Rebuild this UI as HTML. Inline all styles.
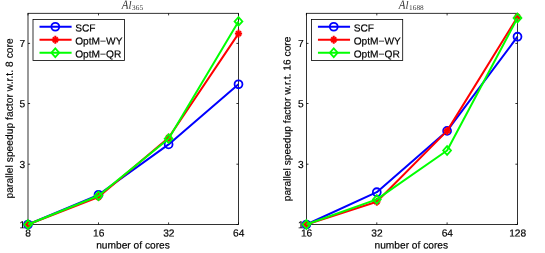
<!DOCTYPE html>
<html><head><meta charset="utf-8"><style>
html,body{margin:0;padding:0;background:#fff;}
svg{display:block}
svg{will-change:transform;transform:translateZ(0)}
.t{font-family:"Liberation Sans",sans-serif;font-size:10.2px;fill:#000;stroke:#000;stroke-width:0.18px}
.ti{font-family:"Liberation Serif",serif;font-size:11px;fill:#3a3a3a}
</style></head><body>
<svg width="545" height="253" viewBox="0 0 545 253">
<rect width="545" height="253" fill="#fff"/>
<rect x="28.0" y="13.3" width="210.50" height="211.20" fill="#fff" stroke="#000" stroke-width="0.8"/>
<line x1="28.0" y1="224.50" x2="30.1" y2="224.50" stroke="#000" stroke-width="0.8"/>
<line x1="238.5" y1="224.50" x2="236.4" y2="224.50" stroke="#000" stroke-width="0.8"/>
<text transform="translate(25.20,228.20) rotate(0.03)" text-anchor="end" class="t">1</text>
<line x1="28.0" y1="164.20" x2="30.1" y2="164.20" stroke="#000" stroke-width="0.8"/>
<line x1="238.5" y1="164.20" x2="236.4" y2="164.20" stroke="#000" stroke-width="0.8"/>
<text transform="translate(25.20,167.90) rotate(0.03)" text-anchor="end" class="t">3</text>
<line x1="28.0" y1="103.50" x2="30.1" y2="103.50" stroke="#000" stroke-width="0.8"/>
<line x1="238.5" y1="103.50" x2="236.4" y2="103.50" stroke="#000" stroke-width="0.8"/>
<text transform="translate(25.20,107.20) rotate(0.03)" text-anchor="end" class="t">5</text>
<line x1="28.0" y1="43.40" x2="30.1" y2="43.40" stroke="#000" stroke-width="0.8"/>
<line x1="238.5" y1="43.40" x2="236.4" y2="43.40" stroke="#000" stroke-width="0.8"/>
<text transform="translate(25.20,47.10) rotate(0.03)" text-anchor="end" class="t">7</text>
<line x1="28.00" y1="224.5" x2="28.00" y2="222.4" stroke="#000" stroke-width="0.8"/>
<line x1="28.00" y1="13.3" x2="28.00" y2="15.4" stroke="#000" stroke-width="0.8"/>
<text transform="translate(28.20,236.60) rotate(0.03)" text-anchor="middle" class="t">8</text>
<line x1="98.50" y1="224.5" x2="98.50" y2="222.4" stroke="#000" stroke-width="0.8"/>
<line x1="98.50" y1="13.3" x2="98.50" y2="15.4" stroke="#000" stroke-width="0.8"/>
<text transform="translate(98.70,236.60) rotate(0.03)" text-anchor="middle" class="t">16</text>
<line x1="168.60" y1="224.5" x2="168.60" y2="222.4" stroke="#000" stroke-width="0.8"/>
<line x1="168.60" y1="13.3" x2="168.60" y2="15.4" stroke="#000" stroke-width="0.8"/>
<text transform="translate(168.80,236.60) rotate(0.03)" text-anchor="middle" class="t">32</text>
<line x1="238.50" y1="224.5" x2="238.50" y2="222.4" stroke="#000" stroke-width="0.8"/>
<line x1="238.50" y1="13.3" x2="238.50" y2="15.4" stroke="#000" stroke-width="0.8"/>
<text transform="translate(238.70,236.60) rotate(0.03)" text-anchor="middle" class="t">64</text>
<text transform="translate(133.0,248.40) rotate(0.03)" text-anchor="middle" class="t">number of cores</text>
<text transform="translate(12.8,198.45) rotate(-90.03)" textLength="160.1" lengthAdjust="spacing" class="t">parallel speedup factor w.r.t. 8 core</text>
<text transform="translate(121.7,8.85) scale(1,1.15) rotate(0.03)" class="ti" font-style="italic">A</text>
<text transform="translate(128.60,8.85) scale(1,1.03) rotate(0.03)" class="ti" font-style="italic">l</text>
<text transform="translate(132.10,9.9) rotate(0.03)" class="ti" style="font-size:7.3px">365</text>
<polyline points="28.00,224.50 98.50,194.80 168.60,144.40 238.50,84.30" fill="none" stroke="#0000ff" stroke-width="2.0" stroke-linejoin="round"/>
<circle cx="28.00" cy="224.50" r="3.95" fill="none" stroke="#0000ff" stroke-width="1.8"/>
<circle cx="98.50" cy="194.80" r="3.95" fill="none" stroke="#0000ff" stroke-width="1.8"/>
<circle cx="168.60" cy="144.40" r="3.95" fill="none" stroke="#0000ff" stroke-width="1.8"/>
<circle cx="238.50" cy="84.30" r="3.95" fill="none" stroke="#0000ff" stroke-width="1.8"/>
<polyline points="28.00,224.50 98.50,197.00 168.60,137.70 238.50,33.60" fill="none" stroke="#ff0000" stroke-width="2.0" stroke-linejoin="round"/>
<line x1="24.40" y1="224.50" x2="31.60" y2="224.50" stroke="#ff0000" stroke-width="2.0"/><line x1="28.00" y1="220.50" x2="28.00" y2="228.50" stroke="#ff0000" stroke-width="2.0"/><line x1="25.53" y1="222.03" x2="30.47" y2="226.97" stroke="#ff0000" stroke-width="2.0"/><line x1="30.47" y1="222.03" x2="25.53" y2="226.97" stroke="#ff0000" stroke-width="2.0"/>
<line x1="94.90" y1="197.00" x2="102.10" y2="197.00" stroke="#ff0000" stroke-width="2.0"/><line x1="98.50" y1="193.00" x2="98.50" y2="201.00" stroke="#ff0000" stroke-width="2.0"/><line x1="96.03" y1="194.53" x2="100.97" y2="199.47" stroke="#ff0000" stroke-width="2.0"/><line x1="100.97" y1="194.53" x2="96.03" y2="199.47" stroke="#ff0000" stroke-width="2.0"/>
<line x1="165.00" y1="137.70" x2="172.20" y2="137.70" stroke="#ff0000" stroke-width="2.0"/><line x1="168.60" y1="133.70" x2="168.60" y2="141.70" stroke="#ff0000" stroke-width="2.0"/><line x1="166.13" y1="135.23" x2="171.07" y2="140.17" stroke="#ff0000" stroke-width="2.0"/><line x1="171.07" y1="135.23" x2="166.13" y2="140.17" stroke="#ff0000" stroke-width="2.0"/>
<line x1="234.90" y1="33.60" x2="242.10" y2="33.60" stroke="#ff0000" stroke-width="2.0"/><line x1="238.50" y1="29.60" x2="238.50" y2="37.60" stroke="#ff0000" stroke-width="2.0"/><line x1="236.03" y1="31.13" x2="240.97" y2="36.07" stroke="#ff0000" stroke-width="2.0"/><line x1="240.97" y1="31.13" x2="236.03" y2="36.07" stroke="#ff0000" stroke-width="2.0"/>
<polyline points="28.00,224.50 98.50,195.80 168.60,138.70 238.50,21.40" fill="none" stroke="#00ff00" stroke-width="2.0" stroke-linejoin="round"/>
<polygon points="28.00,220.20 31.90,224.50 28.00,228.80 24.10,224.50" fill="none" stroke="#00ff00" stroke-width="1.8"/>
<polygon points="98.50,191.50 102.40,195.80 98.50,200.10 94.60,195.80" fill="none" stroke="#00ff00" stroke-width="1.8"/>
<polygon points="168.60,134.40 172.50,138.70 168.60,143.00 164.70,138.70" fill="none" stroke="#00ff00" stroke-width="1.8"/>
<polygon points="238.50,17.10 242.40,21.40 238.50,25.70 234.60,21.40" fill="none" stroke="#00ff00" stroke-width="1.8"/>
<rect x="33.0" y="19.5" width="91.50" height="41.00" fill="#fff" stroke="#000" stroke-width="0.8"/>
<line x1="39.50" y1="26.75" x2="71.60" y2="26.75" stroke="#0000ff" stroke-width="1.9"/>
<circle cx="55.30" cy="26.75" r="3.95" fill="none" stroke="#0000ff" stroke-width="1.8"/>
<text transform="translate(75.20,31.45) rotate(0.03)" class="t">SCF</text>
<line x1="39.50" y1="39.75" x2="71.60" y2="39.75" stroke="#ff0000" stroke-width="1.9"/>
<line x1="51.70" y1="39.75" x2="58.90" y2="39.75" stroke="#ff0000" stroke-width="2.0"/><line x1="55.30" y1="35.75" x2="55.30" y2="43.75" stroke="#ff0000" stroke-width="2.0"/><line x1="52.83" y1="37.28" x2="57.77" y2="42.22" stroke="#ff0000" stroke-width="2.0"/><line x1="57.77" y1="37.28" x2="52.83" y2="42.22" stroke="#ff0000" stroke-width="2.0"/>
<text transform="translate(75.20,44.45) rotate(0.03)" class="t">OptM−WY</text>
<line x1="39.50" y1="52.75" x2="71.60" y2="52.75" stroke="#00ff00" stroke-width="1.9"/>
<polygon points="55.30,48.45 59.20,52.75 55.30,57.05 51.40,52.75" fill="none" stroke="#00ff00" stroke-width="1.8"/>
<text transform="translate(75.20,57.45) rotate(0.03)" class="t">OptM−QR</text>
<rect x="306.4" y="13.3" width="211.10" height="211.20" fill="#fff" stroke="#000" stroke-width="0.8"/>
<line x1="306.4" y1="224.50" x2="308.5" y2="224.50" stroke="#000" stroke-width="0.8"/>
<line x1="517.5" y1="224.50" x2="515.4" y2="224.50" stroke="#000" stroke-width="0.8"/>
<text transform="translate(303.60,228.20) rotate(0.03)" text-anchor="end" class="t">1</text>
<line x1="306.4" y1="164.20" x2="308.5" y2="164.20" stroke="#000" stroke-width="0.8"/>
<line x1="517.5" y1="164.20" x2="515.4" y2="164.20" stroke="#000" stroke-width="0.8"/>
<text transform="translate(303.60,167.90) rotate(0.03)" text-anchor="end" class="t">3</text>
<line x1="306.4" y1="103.50" x2="308.5" y2="103.50" stroke="#000" stroke-width="0.8"/>
<line x1="517.5" y1="103.50" x2="515.4" y2="103.50" stroke="#000" stroke-width="0.8"/>
<text transform="translate(303.60,107.20) rotate(0.03)" text-anchor="end" class="t">5</text>
<line x1="306.4" y1="43.40" x2="308.5" y2="43.40" stroke="#000" stroke-width="0.8"/>
<line x1="517.5" y1="43.40" x2="515.4" y2="43.40" stroke="#000" stroke-width="0.8"/>
<text transform="translate(303.60,47.10) rotate(0.03)" text-anchor="end" class="t">7</text>
<line x1="306.40" y1="224.5" x2="306.40" y2="222.4" stroke="#000" stroke-width="0.8"/>
<line x1="306.40" y1="13.3" x2="306.40" y2="15.4" stroke="#000" stroke-width="0.8"/>
<text transform="translate(306.60,236.60) rotate(0.03)" text-anchor="middle" class="t">16</text>
<line x1="376.80" y1="224.5" x2="376.80" y2="222.4" stroke="#000" stroke-width="0.8"/>
<line x1="376.80" y1="13.3" x2="376.80" y2="15.4" stroke="#000" stroke-width="0.8"/>
<text transform="translate(377.00,236.60) rotate(0.03)" text-anchor="middle" class="t">32</text>
<line x1="447.10" y1="224.5" x2="447.10" y2="222.4" stroke="#000" stroke-width="0.8"/>
<line x1="447.10" y1="13.3" x2="447.10" y2="15.4" stroke="#000" stroke-width="0.8"/>
<text transform="translate(447.30,236.60) rotate(0.03)" text-anchor="middle" class="t">64</text>
<line x1="517.50" y1="224.5" x2="517.50" y2="222.4" stroke="#000" stroke-width="0.8"/>
<line x1="517.50" y1="13.3" x2="517.50" y2="15.4" stroke="#000" stroke-width="0.8"/>
<text transform="translate(517.70,236.60) rotate(0.03)" text-anchor="middle" class="t">128</text>
<text transform="translate(411.3,248.40) rotate(0.03)" text-anchor="middle" class="t">number of cores</text>
<text transform="translate(290.6,201.25) rotate(-90.03)" textLength="164.7" lengthAdjust="spacing" class="t">parallel speedup factor w.r.t. 16 core</text>
<text transform="translate(398.7,8.85) scale(1,1.15) rotate(0.03)" class="ti" font-style="italic">A</text>
<text transform="translate(405.60,8.85) scale(1,1.03) rotate(0.03)" class="ti" font-style="italic">l</text>
<text transform="translate(409.10,9.9) rotate(0.03)" class="ti" style="font-size:7.3px">1688</text>
<polyline points="306.40,224.50 376.80,192.20 447.10,130.90 517.50,36.70" fill="none" stroke="#0000ff" stroke-width="2.0" stroke-linejoin="round"/>
<circle cx="306.40" cy="224.50" r="3.95" fill="none" stroke="#0000ff" stroke-width="1.8"/>
<circle cx="376.80" cy="192.20" r="3.95" fill="none" stroke="#0000ff" stroke-width="1.8"/>
<circle cx="447.10" cy="130.90" r="3.95" fill="none" stroke="#0000ff" stroke-width="1.8"/>
<circle cx="517.50" cy="36.70" r="3.95" fill="none" stroke="#0000ff" stroke-width="1.8"/>
<polyline points="306.40,224.50 376.80,201.70 447.10,130.90 517.50,17.00" fill="none" stroke="#ff0000" stroke-width="2.0" stroke-linejoin="round"/>
<line x1="302.80" y1="224.50" x2="310.00" y2="224.50" stroke="#ff0000" stroke-width="2.0"/><line x1="306.40" y1="220.50" x2="306.40" y2="228.50" stroke="#ff0000" stroke-width="2.0"/><line x1="303.93" y1="222.03" x2="308.87" y2="226.97" stroke="#ff0000" stroke-width="2.0"/><line x1="308.87" y1="222.03" x2="303.93" y2="226.97" stroke="#ff0000" stroke-width="2.0"/>
<line x1="373.20" y1="201.70" x2="380.40" y2="201.70" stroke="#ff0000" stroke-width="2.0"/><line x1="376.80" y1="197.70" x2="376.80" y2="205.70" stroke="#ff0000" stroke-width="2.0"/><line x1="374.33" y1="199.23" x2="379.27" y2="204.17" stroke="#ff0000" stroke-width="2.0"/><line x1="379.27" y1="199.23" x2="374.33" y2="204.17" stroke="#ff0000" stroke-width="2.0"/>
<line x1="443.50" y1="130.90" x2="450.70" y2="130.90" stroke="#ff0000" stroke-width="2.0"/><line x1="447.10" y1="126.90" x2="447.10" y2="134.90" stroke="#ff0000" stroke-width="2.0"/><line x1="444.63" y1="128.43" x2="449.57" y2="133.37" stroke="#ff0000" stroke-width="2.0"/><line x1="449.57" y1="128.43" x2="444.63" y2="133.37" stroke="#ff0000" stroke-width="2.0"/>
<line x1="513.90" y1="17.00" x2="521.10" y2="17.00" stroke="#ff0000" stroke-width="2.0"/><line x1="517.50" y1="13.00" x2="517.50" y2="21.00" stroke="#ff0000" stroke-width="2.0"/><line x1="515.03" y1="14.53" x2="519.97" y2="19.47" stroke="#ff0000" stroke-width="2.0"/><line x1="519.97" y1="14.53" x2="515.03" y2="19.47" stroke="#ff0000" stroke-width="2.0"/>
<polyline points="306.40,224.50 376.80,199.40 447.10,150.50 517.50,18.00" fill="none" stroke="#00ff00" stroke-width="2.0" stroke-linejoin="round"/>
<polygon points="306.40,220.20 310.30,224.50 306.40,228.80 302.50,224.50" fill="none" stroke="#00ff00" stroke-width="1.8"/>
<polygon points="376.80,195.10 380.70,199.40 376.80,203.70 372.90,199.40" fill="none" stroke="#00ff00" stroke-width="1.8"/>
<polygon points="447.10,146.20 451.00,150.50 447.10,154.80 443.20,150.50" fill="none" stroke="#00ff00" stroke-width="1.8"/>
<polygon points="517.50,13.70 521.40,18.00 517.50,22.30 513.60,18.00" fill="none" stroke="#00ff00" stroke-width="1.8"/>
<rect x="311.45" y="19.5" width="91.25" height="41.00" fill="#fff" stroke="#000" stroke-width="0.8"/>
<line x1="317.95" y1="26.75" x2="350.05" y2="26.75" stroke="#0000ff" stroke-width="1.9"/>
<circle cx="333.75" cy="26.75" r="3.95" fill="none" stroke="#0000ff" stroke-width="1.8"/>
<text transform="translate(353.65,31.45) rotate(0.03)" class="t">SCF</text>
<line x1="317.95" y1="39.75" x2="350.05" y2="39.75" stroke="#ff0000" stroke-width="1.9"/>
<line x1="330.15" y1="39.75" x2="337.35" y2="39.75" stroke="#ff0000" stroke-width="2.0"/><line x1="333.75" y1="35.75" x2="333.75" y2="43.75" stroke="#ff0000" stroke-width="2.0"/><line x1="331.28" y1="37.28" x2="336.22" y2="42.22" stroke="#ff0000" stroke-width="2.0"/><line x1="336.22" y1="37.28" x2="331.28" y2="42.22" stroke="#ff0000" stroke-width="2.0"/>
<text transform="translate(353.65,44.45) rotate(0.03)" class="t">OptM−WY</text>
<line x1="317.95" y1="52.75" x2="350.05" y2="52.75" stroke="#00ff00" stroke-width="1.9"/>
<polygon points="333.75,48.45 337.65,52.75 333.75,57.05 329.85,52.75" fill="none" stroke="#00ff00" stroke-width="1.8"/>
<text transform="translate(353.65,57.45) rotate(0.03)" class="t">OptM−QR</text>
</svg>
</body></html>
